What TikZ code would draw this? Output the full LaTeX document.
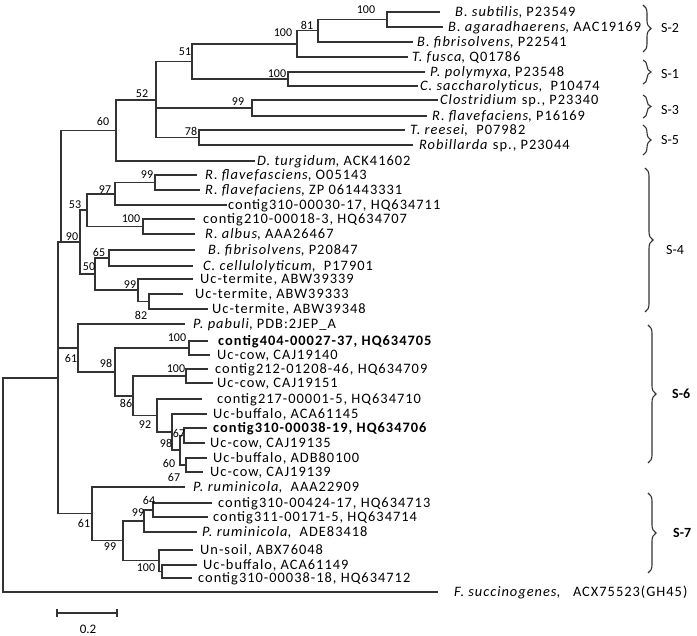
\documentclass[tikz,border=0pt]{standalone}
\usepackage{fontspec}
\setmainfont{Carlito}
\newfontfamily\leaffont{Carlito}[LetterSpace=7.0]
\usetikzlibrary{decorations.pathreplacing}
\begin{document}
\begin{tikzpicture}[x=1pt,y=-1pt,
  br/.style={line width=1.1pt, draw=black!80, line join=miter},
  lab/.style={anchor=base west, inner sep=0pt, yshift=-4.6pt, font=\leaffont\fontsize{14.4}{17}\selectfont},
  bs/.style={anchor=center, inner sep=0pt, font=\fontsize{12}{14}\selectfont},
  grp/.style={draw=black!80, line width=1.1pt, decorate, decoration={brace, amplitude=8pt}},
  glab/.style={anchor=west, inner sep=0pt, font=\fontsize{14}{16}\selectfont}
]
\useasboundingbox (0,0) rectangle (697,636);
% internal nodes
\coordinate (root) at (3,485);
\coordinate (nQ) at (58,378);
\coordinate (nR) at (61,242);
\coordinate (n60) at (116,130.5);
\coordinate (n52) at (156,100);
\coordinate (n51) at (192,61.5);
\coordinate (n100a) at (297,44);
\coordinate (n81) at (318,30.5);
\coordinate (n100c) at (387,19.5);
\coordinate (n100b) at (288,79);
\coordinate (n99a) at (252,108);
\coordinate (n78) at (199,137.5);
\coordinate (n90) at (80,242);
\coordinate (n53) at (87,210);
\coordinate (n97) at (115,194);
\coordinate (n99b) at (155,182.5);
\coordinate (n100d) at (143,226.5);
\coordinate (n50) at (95,274);
\coordinate (n65) at (109,258);
\coordinate (n99c) at (138,290);
\coordinate (n82) at (149,301.5);
\coordinate (n61a) at (78,348);
\coordinate (n98a) at (115,372);
\coordinate (n100e) at (189,348);
\coordinate (n86) at (133,396);
\coordinate (n100f) at (186,376);
\coordinate (n92) at (157,415.5);
\coordinate (n98b) at (172,432);
\coordinate (nX) at (180,450);
\coordinate (n67) at (184,435.5);
\coordinate (n60b) at (186,465);
\coordinate (n61b) at (92,513.5);
\coordinate (n99d) at (123,540.5);
\coordinate (n99e) at (144,521);
\coordinate (n64) at (153,510);
\coordinate (n100g) at (159,560.75);
\coordinate (nY) at (162,571.5);
% leaf ends
\coordinate (ebsub) at (440,12);
\coordinate (ebagar) at (443,27);
\coordinate (ebfib1) at (413,42);
\coordinate (etfus) at (408,57);
\coordinate (eppoly) at (425,72);
\coordinate (ecsacc) at (418,86);
\coordinate (eclos) at (438,100);
\coordinate (erfl1) at (427,116);
\coordinate (etree) at (405,130);
\coordinate (erobil) at (413,145);
\coordinate (edturg) at (255,161);
\coordinate (erfl2) at (197,175);
\coordinate (erfl3) at (200,190);
\coordinate (ec31030) at (227,205);
\coordinate (ec210) at (195,219);
\coordinate (eralb) at (195,234);
\coordinate (ebfib2) at (195,250);
\coordinate (eccell) at (193,266);
\coordinate (eterm1) at (193,279);
\coordinate (eterm2) at (183,294);
\coordinate (eterm3) at (208,309);
\coordinate (eppab) at (185,324);
\coordinate (ec404) at (208,341);
\coordinate (ecow140) at (210,355);
\coordinate (ec212) at (208,369);
\coordinate (ecow151) at (213,383);
\coordinate (ec217) at (202,399);
\coordinate (ebuf145) at (207,414);
\coordinate (ec31019) at (207,428);
\coordinate (ecow135) at (205,443);
\coordinate (ebuf100) at (207,458);
\coordinate (ecow139) at (203,472);
\coordinate (eprum1) at (185,487);
\coordinate (ec424) at (212,503);
\coordinate (ec311) at (208,517);
\coordinate (eprum2) at (197,532);
\coordinate (esoil) at (193,550);
\coordinate (ebuf149) at (197,565);
\coordinate (ec31018) at (192,578);
\coordinate (efsuc) at (438,592);
% branches
\foreach \a/\b in {root/nQ, root/efsuc, nQ/nR, nQ/n61a, nQ/n61b, nR/n60, nR/n90,
  n60/n52, n60/edturg, n52/n51, n52/n99a, n52/n78, n51/n100a, n51/n100b,
  n100a/n81, n100a/etfus, n81/n100c, n81/ebfib1, n100c/ebsub, n100c/ebagar,
  n100b/eppoly, n100b/ecsacc, n99a/eclos, n99a/erfl1, n78/etree, n78/erobil,
  n90/n53, n90/n50, n53/n97, n53/n100d, n97/n99b, n97/ec31030, n99b/erfl2, n99b/erfl3,
  n100d/ec210, n100d/eralb, n50/n65, n50/n99c, n65/ebfib2, n65/eccell,
  n99c/eterm1, n99c/n82, n82/eterm2, n82/eterm3,
  n61a/eppab, n61a/n98a, n98a/n100e, n98a/n86, n100e/ec404, n100e/ecow140,
  n86/n100f, n86/n92, n100f/ec212, n100f/ecow151, n92/ec217, n92/n98b,
  n98b/ebuf145, n98b/nX, nX/n67, nX/n60b, n67/ec31019, n67/ecow135,
  n60b/ebuf100, n60b/ecow139,
  n61b/eprum1, n61b/n99d, n99d/n99e, n99d/n100g, n99e/n64, n99e/eprum2,
  n64/ec424, n64/ec311, n100g/esoil, n100g/nY, nY/ebuf149, nY/ec31018}
  \draw[br] (\a) |- (\b);
% leaf labels
\node[lab] (tbsub) at (455,12) {\textit{B. subtilis}, P23549};
\node[lab] (tbagar) at (448,27) {\textit{B. agaradhaerens}, AAC19169};
\node[lab] (tbfib1) at (417,42) {\textit{B. fibrisolvens}, P22541};
\node[lab] (ttfus) at (412,57) {\textit{T. fusca}, Q01786};
\node[lab] (tppoly) at (430,72) {\textit{P. polymyxa}, P23548};
\node[lab] (tcsacc) at (420,86) {\textit{C. saccharolyticus}, \ P10474};
\node[lab] (tclos) at (440,100) {\textit{Clostridium} sp., P23340};
\node[lab] (trfl1) at (432,116) {\textit{R. flavefaciens}, P16169};
\node[lab] (ttree) at (410,130) {\textit{T. reesei}, \ P07982};
\node[lab] (trobil) at (419,145) {\textit{Robillarda} sp., P23044};
\node[lab] (tdturg) at (257,161) {\textit{D. turgidum}, ACK41602};
\node[lab] (trfl2) at (205,175) {\textit{R. flavefasciens}, O05143};
\node[lab] (trfl3) at (205,190) {\textit{R. flavefaciens}, ZP 061443331};
\node[lab] (tc31030) at (228,205) {contig310-00030-17, HQ634711};
\node[lab] (tc210) at (203,219) {contig210-00018-3, HQ634707};
\node[lab] (tralb) at (205,234) {\textit{R. albus}, AAA26467};
\node[lab] (tbfib2) at (208,250) {\textit{B. fibrisolvens}, P20847};
\node[lab] (tccell) at (203,266) {\textit{C. cellulolyticum}, \ P17901};
\node[lab] (tterm1) at (200,279) {Uc-termite, ABW39339};
\node[lab] (tterm2) at (195,294) {Uc-termite, ABW39333};
\node[lab] (tterm3) at (212,309) {Uc-termite, ABW39348};
\node[lab] (tppab) at (193,324) {\textit{P. pabuli}, PDB:2JEP\_A};
\node[lab] (tc404) at (218,341) {\bfseries contig404-00027-37, HQ634705};
\node[lab] (tcow140) at (217,355) {Uc-cow, CAJ19140};
\node[lab] (tc212) at (215,369) {contig212-01208-46, HQ634709};
\node[lab] (tcow151) at (217,383) {Uc-cow, CAJ19151};
\node[lab] (tc217) at (217,399) {contig217-00001-5, HQ634710};
\node[lab] (tbuf145) at (213,414) {Uc-buffalo, ACA61145};
\node[lab] (tc31019) at (213,428) {\bfseries contig310-00038-19, HQ634706};
\node[lab] (tcow135) at (210,443) {Uc-cow, CAJ19135};
\node[lab] (tbuf100) at (213,458) {Uc-buffalo, ADB80100};
\node[lab] (tcow139) at (210,472) {Uc-cow, CAJ19139};
\node[lab] (tprum1) at (193,487) {\textit{P. ruminicola}, \ AAA22909};
\node[lab] (tc424) at (218,503) {contig310-00424-17, HQ634713};
\node[lab] (tc311) at (213,517) {contig311-00171-5, HQ634714};
\node[lab] (tprum2) at (202,532) {\textit{P. ruminicola}, \ ADE83418};
\node[lab] (tsoil) at (200,550) {Un-soil, ABX76048};
\node[lab] (tbuf149) at (203,565) {Uc-buffalo, ACA61149};
\node[lab] (tc31018) at (198,578) {contig310-00038-18, HQ634712};
\node[lab] (tfsuc) at (454,592) {\textit{F. succinogenes}, \ \ ACX75523(GH45)};
% bootstrap values
\node[bs] (b1) at (366,10) {100};
\node[bs] (b2) at (307,25) {81};
\node[bs] (b3) at (283,33) {100};
\node[bs] (b4) at (185,52) {51};
\node[bs] (b5) at (277,74) {100};
\node[bs] (b6) at (142,94) {52};
\node[bs] (b7) at (238,102) {99};
\node[bs] (b8) at (191,131) {78};
\node[bs] (b9) at (103,121) {60};
\node[bs] (b10) at (147,175) {99};
\node[bs] (b11) at (105,190) {97};
\node[bs] (b12) at (75,205) {53};
\node[bs] (b13) at (131,219) {100};
\node[bs] (b14) at (72,237) {90};
\node[bs] (b15) at (99,252) {65};
\node[bs] (b16) at (89,267) {50};
\node[bs] (b17) at (130,285) {99};
\node[bs] (b18) at (141,315) {82};
\node[bs] (b19) at (177,338) {100};
\node[bs] (b20) at (71,358) {61};
\node[bs] (b21) at (106,363) {98};
\node[bs] (b22) at (176,369) {100};
\node[bs] (b23) at (126,403) {86};
\node[bs] (b24) at (145,425) {92};
\node[bs] (b25) at (179,433) {67};
\node[bs] (b26) at (166,443) {98};
\node[bs] (b27) at (169,463) {60};
\node[bs] (b28) at (174,477) {67};
\node[bs] (b29) at (84,523) {61};
\node[bs] (b30) at (149,500) {64};
\node[bs] (b31) at (138,513) {99};
\node[bs] (b32) at (110,547) {99};
\node[bs] (b33) at (146,568) {100};
% scale bar
\coordinate (sbL) at (57,613);
\coordinate (sbR) at (117,613);
\draw[br] (sbL) -- (sbR);
\draw[br] ([yshift=4pt]sbL) -- ([yshift=-4pt]sbL);
\draw[br] ([yshift=4pt]sbR) -- ([yshift=-4pt]sbR);
\node[bs, font=\fontsize{13}{15}\selectfont] (sblab) at (88,629) {0.2};
% group braces
\coordinate (g2a) at (643,5);   \coordinate (g2b) at (643,52);
\coordinate (g1a) at (643,60);  \coordinate (g1b) at (643,84);
\coordinate (g3a) at (643,95);  \coordinate (g3b) at (643,118);
\coordinate (g5a) at (643,125); \coordinate (g5b) at (643,155);
\coordinate (g4a) at (645,168); \coordinate (g4b) at (645,312);
\coordinate (g6a) at (648,325); \coordinate (g6b) at (648,463);
\coordinate (g7a) at (648,493); \coordinate (g7b) at (648,573);
\foreach \a/\b in {g2a/g2b, g1a/g1b, g3a/g3b, g5a/g5b, g4a/g4b, g6a/g6b, g7a/g7b}
  \draw[grp] (\a) -- (\b);
\node[glab] (s2) at (661,28) {S-2};
\node[glab] (s1) at (661,74) {S-1};
\node[glab] (s3) at (661,110) {S-3};
\node[glab] (s5) at (661,140) {S-5};
\node[glab] (s4) at (666,250) {S-4};
\node[glab, font=\fontsize{14}{16}\selectfont\bfseries] (s6) at (672,394) {S-6};
\node[glab, font=\fontsize{14}{16}\selectfont\bfseries] (s7) at (673,533) {S-7};
\end{tikzpicture}
\end{document}
